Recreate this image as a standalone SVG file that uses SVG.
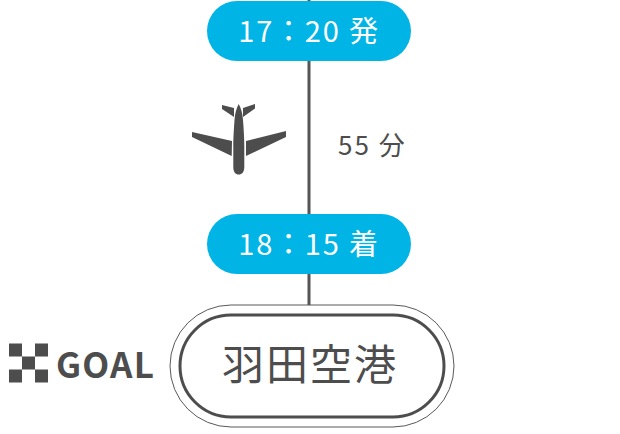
<svg xmlns="http://www.w3.org/2000/svg" width="620" height="434" viewBox="0 0 620 434">
<style>
text{font-family:"Noto Sans CJK JP","Noto Sans",sans-serif}
.pill{fill:#00b5e6}
.t{fill:#fff;font-size:29px;text-anchor:middle;letter-spacing:1.8px}
.g{fill:#4d4d4d}
.line{stroke:#555;stroke-width:3;fill:none}
</style>
<rect width="620" height="434" fill="#fff"/>
<g id="connectors">
<line class="line" x1="309" y1="0" x2="309" y2="316"/>
</g>
<g id="dep">
<rect class="pill" x="207" y="1" width="204" height="60" rx="30"/>
<text class="t" x="309" y="42">17：20 発</text>
</g>
<g id="plane">
<path class="g" d="M238.700 104C236.500 108 235 113 234.500 120C233.800 130 233.300 140 233.300 146V167C233.300 172 235.500 174.500 238.700 174.500C242 174.500 244.300 172 244.300 167V146C244.300 140 243.800 130 243 120C242.500 113 241 108 238.700 104Z"/>
<path class="g" d="M222 105L234 108V117L222 109ZM255 104L243 108V117L255 108.500Z"/>
<path class="g" d="M192 132L232 141L231.700 156L192 137ZM286 131L246 141V156L286 137Z"/>
</g>
<g id="duration">
<text class="g" x="338" y="155" font-size="26" letter-spacing="2">55 分</text>
</g>
<g id="arr">
<rect class="pill" x="207" y="214" width="204" height="60" rx="30"/>
<text class="t" x="309" y="255">18：15 着</text>
</g>
<g id="goal">
<rect x="170" y="305" width="284" height="122" rx="61" fill="#fff" stroke="#595959" stroke-width="1"/>
<rect x="180" y="315" width="264" height="102" rx="51" fill="#fff" stroke="#4d4d4d" stroke-width="3"/>
<text class="g" x="310" y="380" font-size="42" text-anchor="middle" letter-spacing="2">羽田空港</text>
<path class="g" d="M9 343.500H22V356.500H9ZM35 343.500H48V356.500H35ZM22 356.500H35V369.500H22ZM9 369.500H22V382.500H9ZM35 369.500H48V382.500H35Z"/>
<text class="g" x="56" y="377.500" font-size="35" font-weight="700" letter-spacing="1.200" font-family="Noto Sans">GOAL</text>
</g>
</svg>
